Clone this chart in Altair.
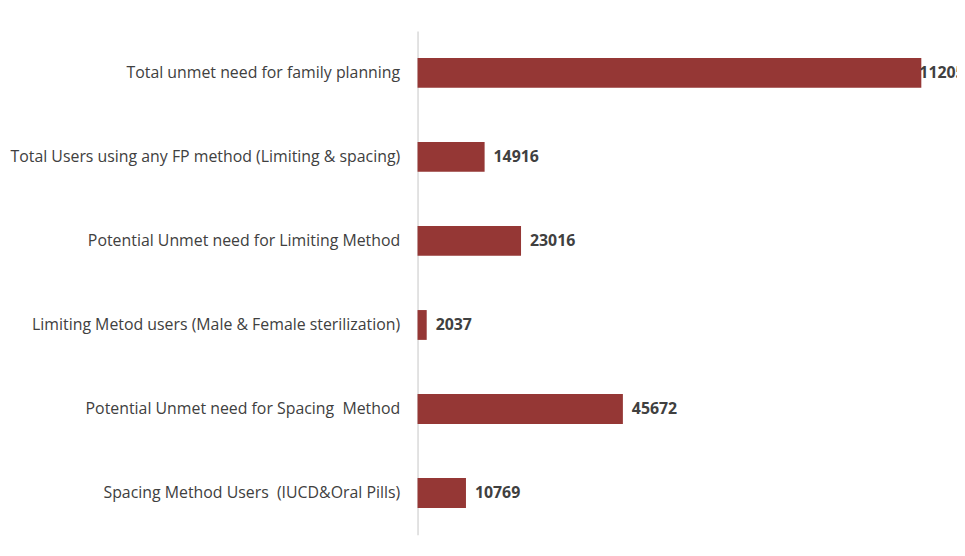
import altair as alt
import pandas as pd

categories = [
    "Total unmet need for family planning",
    "Total Users using any FP method (Limiting & spacing)",
    "Potential Unmet need for Limiting Method",
    "Limiting Metod users (Male & Female sterilization)",
    "Potential Unmet need for Spacing\u00a0 Method",
    "Spacing Method Users\u00a0 (IUCD&Oral Pills)",
]
values = [112050, 14916, 23016, 2037, 45672, 10769]

df = pd.DataFrame({"category": categories, "value": values})

y_enc = alt.Y(
    "category:N",
    sort=categories,
    scale=alt.Scale(paddingInner=0.645, paddingOuter=0.32),
    axis=alt.Axis(
        title=None,
        ticks=False,
        domainColor="#d9d9d9",
        domainWidth=1.5,
        labelFont="Open Sans",
        labelFontSize=16,
        labelColor="#404040",
        labelPadding=18,
        labelLimit=500,
    ),
)
x_enc = alt.X(
    "value:Q",
    scale=alt.Scale(domain=[0, 118000], nice=False),
    axis=None,
)

base = alt.Chart(df)
bars = base.mark_bar(color="#953735", cornerRadius=0).encode(y=y_enc, x=x_enc)

text_kw = dict(align="left", baseline="middle", font="Open Sans", fontSize=16,
               fontWeight="bold", color="#404040")
text_enc = dict(y=alt.Y("category:N", sort=categories), x="value:Q",
                text=alt.Text("value:Q", format="d"))

labels = base.transform_filter(alt.datum.value < 100000).mark_text(dx=9, **text_kw).encode(**text_enc)
labels_top = base.transform_filter(alt.datum.value >= 100000).mark_text(dx=-2, **text_kw).encode(**text_enc)

chart = (
    alt.layer(bars, labels, labels_top)
    .properties(
        width=535,
        height=508,
        background="white",
        autosize=alt.AutoSizeParams(type="none"),
        padding={"left": 413, "top": 21, "right": 9, "bottom": 11},
    )
    .configure_view(strokeWidth=0, stroke=None)
)

chart.save("out.html", embed_options={"renderer": "svg", "actions": False})
